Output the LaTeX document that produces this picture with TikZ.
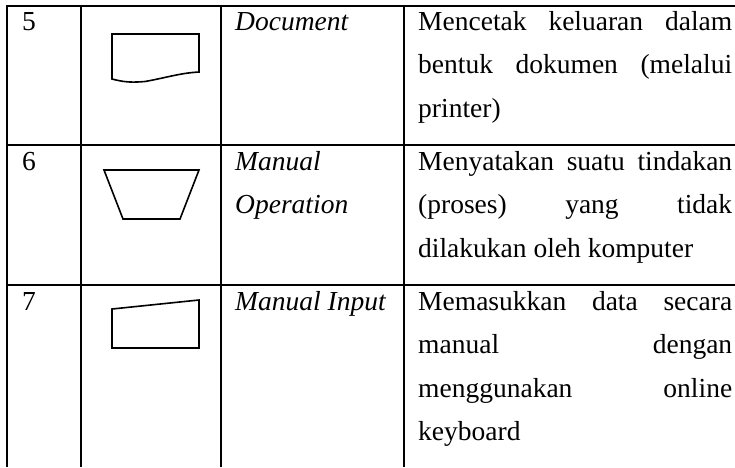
\documentclass[tikz,border=0pt]{standalone}
\usepackage{fontspec}
\setmainfont{Liberation Serif}
\begin{document}
\begin{tikzpicture}[x=1pt,y=-1pt,
  grid/.style={line width=2pt,black},
  symb/.style={line width=1.6pt,black,line join=miter},
  txt/.style={anchor=base west,inner sep=0pt,font=\fontsize{27.5}{32}\selectfont},
  itxt/.style={txt,font=\fontsize{27.5}{32}\selectfont\itshape}]
\useasboundingbox (0,0) rectangle (735,467);
% table grid
\draw[grid] (6,6) -- (735,6);
\draw[grid] (7,145) -- (735,145);
\draw[grid] (7,285) -- (735,285);
\draw[grid] (7,5) -- (7,467);
\draw[grid] (81,5) -- (81,467);
\draw[grid] (221,5) -- (221,467);
\draw[grid] (404,5) -- (404,467);
% symbols
\draw[symb] (112,79) -- (112,34) -- (199,34) -- (199,72)
  .. controls (180,73) and (165,78) .. (145,81.5)
  .. controls (133,82.5) and (125,82.5) .. cycle;
\draw[symb] (104,170) -- (199,170) -- (180,219) -- (123,219) -- cycle;
\draw[symb] (112,309) -- (199,300) -- (199,348) -- (112,348) -- cycle;
% column 1
\node[txt] (n5) at (22,30) {5};
\node[txt] (n6) at (22,170) {6};
\node[txt] (n7) at (22,310) {7};
% column 3
\node[itxt] (d5) at (235,30) {Document};
\node[itxt] (d6a) at (235,170) {Manual};
\node[itxt] (d6b) at (235,213.5) {Operation};
\node[itxt] (d7) at (235,310) {Manual Input};
% column 4
\node[txt] (e5a) at (418,30) {\hbox to 314pt{Mencetak\hfill keluaran\hfill dalam}};
\node[txt] (e5b) at (418,73.5) {\hbox to 314pt{bentuk\hfill dokumen\hfill (melalui}};
\node[txt] (e5c) at (418,117) {printer)};
\node[txt] (e6a) at (418,170) {\hbox to 314pt{Menyatakan\hfill suatu\hfill tindakan}};
\node[txt] (e6b) at (418,213.5) {\hbox to 314pt{(proses)\hfill yang\hfill tidak}};
\node[txt] (e6c) at (418,257) {dilakukan oleh komputer};
\node[txt] (e7a) at (418,310) {\hbox to 314pt{Memasukkan\hfill data\hfill secara}};
\node[txt] (e7b) at (418,353.5) {\hbox to 314pt{manual\hfill dengan}};
\node[txt] (e7c) at (418,397) {\hbox to 314pt{menggunakan\hfill online}};
\node[txt] (e7d) at (418,440.5) {keyboard};
\end{tikzpicture}
\end{document}
